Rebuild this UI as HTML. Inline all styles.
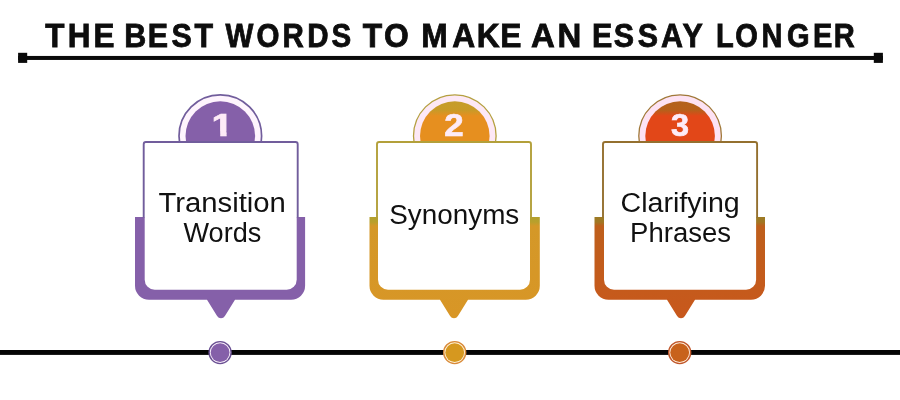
<!DOCTYPE html>
<html lang="en">
<head>
<meta charset="utf-8">
<title>The Best Words to Make an Essay Longer</title>
<style>
  html, body { margin: 0; padding: 0; background: #ffffff; }
  body { width: 900px; height: 400px; overflow: hidden; position: relative; }
  svg { position: absolute; left: 0; top: 0; display: block; will-change: transform; }
  text { font-family: "Liberation Sans", sans-serif; }
  .title text { font-weight: 700; font-size: 32.7px; fill: #0d0d0d; stroke: #0d0d0d; stroke-width: 0.8px; }
  .num { font-weight: 700; font-size: 31.5px; fill: #fdebf7; stroke: #fdebf7; stroke-width: 0.7px; }
  .lbl { font-size: 28.2px; fill: #111111; }
</style>
</head>
<body>
<svg width="900" height="400" viewBox="0 0 900 400">
  <defs>
    <linearGradient id="c2" x1="0" y1="0" x2="0" y2="1">
      <stop offset="0" stop-color="#c59d2b"/>
      <stop offset="0.13" stop-color="#c99a28"/>
      <stop offset="0.21" stop-color="#e68f1f"/>
      <stop offset="1" stop-color="#e68f1f"/>
    </linearGradient>
    <linearGradient id="k2" x1="0" y1="0" x2="0" y2="1">
      <stop offset="0" stop-color="#b3a02e"/>
      <stop offset="0.05" stop-color="#b8a02c"/>
      <stop offset="0.09" stop-color="#d49828"/>
      <stop offset="1" stop-color="#d89626"/>
    </linearGradient>
    <linearGradient id="c3" x1="0" y1="0" x2="0" y2="1">
      <stop offset="0" stop-color="#b3621c"/>
      <stop offset="0.13" stop-color="#b75f1b"/>
      <stop offset="0.21" stop-color="#e24718"/>
      <stop offset="1" stop-color="#e24718"/>
    </linearGradient>
    <linearGradient id="k3" x1="0" y1="0" x2="0" y2="1">
      <stop offset="0" stop-color="#9c7a24"/>
      <stop offset="0.05" stop-color="#a07824"/>
      <stop offset="0.09" stop-color="#be5f1c"/>
      <stop offset="1" stop-color="#c8581c"/>
    </linearGradient>
    <clipPath id="one">
      <rect x="200" y="100" width="40" height="31.5"/>
      <rect x="220.25" y="100" width="6.35" height="40"/>
    </clipPath>
  </defs>

  <!-- title -->
  <g class="title">
    <text transform="translate(0 46.5) scale(0.9618 1)" x="47.06 70.55 97.29" y="0">THE</text>
    <text transform="translate(0 46.5) scale(0.9304 1)" x="133.61 158.94 184.42 209.0" y="0">BEST</text>
    <text transform="translate(0 46.5) scale(0.9033 1)" x="249.56 283.98 312.76 340.15 367.04" y="0">WORDS</text>
    <text transform="translate(0 46.5) scale(0.9726 1)" x="373.08 394.74" y="0">TO</text>
    <text transform="translate(0 46.5) scale(0.9706 1)" x="434.02 465.99 491.12 515.48" y="0">MAKE</text>
    <text transform="translate(0 46.5) scale(1.0088 1)" x="526.33 552.66" y="0">AN</text>
    <text transform="translate(0 46.5) scale(0.9321 1)" x="635.0 658.42 684.22 709.14 732.32" y="0">ESSAY</text>
    <text transform="translate(0 46.5) scale(0.889 1)" x="805.31 827.12 856.51 885.41 914.58 937.98" y="0">LONGER</text>
  </g>
  <rect x="18.1" y="55.95" width="864.8" height="4" fill="#0a0a0a"/>
  <rect x="18.1" y="52.8" width="9.1" height="10.1" fill="#0a0a0a"/>
  <rect x="873.8" y="52.8" width="9.1" height="10.1" fill="#0a0a0a"/>

  <!-- timeline -->
  <rect x="0" y="350" width="900" height="4.9" fill="#050505"/>

  <g>
    <circle cx="220.3" cy="136.1" r="41.3" fill="#fef4fd" stroke="#715d9c" stroke-width="1.7"/>
    <circle cx="220.3" cy="136.1" r="34.8" fill="#8560a9"/>
    <path d="M135.0 216.9 H305.1 V285.8 a14 14 0 0 1 -14 14 H235.0 L224.91 316.05 A4.6 4.6 0 0 1 217.09 316.05 L207.0 299.8 H149.0 a14 14 0 0 1 -14 -14 Z" fill="#8560a9"/>
    <path d="M146.7 142 H294.7 a2 2 0 0 1 2 2 V279.7 a10 10 0 0 1 -10 10 H154.7 a10 10 0 0 1 -10 -10 V144 a2 2 0 0 1 2 -2 Z" fill="#ffffff"/>
    <path d="M143.7 217.5 V144.2 a2.2 2.2 0 0 1 2.2 -2.2 H295.5 a2.2 2.2 0 0 1 2.2 2.2 V217.5" fill="none" stroke="#715d9c" stroke-width="1.9"/>
    <circle cx="220.1" cy="352.6" r="11" fill="#fbf2fc" stroke="#6a5093" stroke-width="1.4"/>
    <circle cx="220.1" cy="352.6" r="9.4" fill="#8560a9"/>
  </g>
  <g>
    <circle cx="454.8" cy="136.1" r="41.3" fill="#fde8f6" stroke="#b5a040" stroke-width="1.3"/>
    <circle cx="454.8" cy="136.1" r="34.8" fill="url(#c2)"/>
    <path d="M369.5 216.9 H539.8 V285.8 a14 14 0 0 1 -14 14 H468.0 L457.91 316.05 A4.6 4.6 0 0 1 450.09 316.05 L440.0 299.8 H383.5 a14 14 0 0 1 -14 -14 Z" fill="url(#k2)"/>
    <path d="M380.0 142 H528.0 a2 2 0 0 1 2 2 V279.7 a10 10 0 0 1 -10 10 H388.0 a10 10 0 0 1 -10 -10 V144 a2 2 0 0 1 2 -2 Z" fill="#ffffff"/>
    <path d="M377.0 217.5 V144.2 a2.2 2.2 0 0 1 2.2 -2.2 H528.8 a2.2 2.2 0 0 1 2.2 2.2 V217.5" fill="none" stroke="#b3a03a" stroke-width="1.9"/>
    <circle cx="454.7" cy="352.6" r="11" fill="#fff3d8" stroke="#d98a3a" stroke-width="1.4"/>
    <circle cx="454.7" cy="352.6" r="9.4" fill="#d6981f"/>
  </g>
  <g>
    <circle cx="680.1" cy="136.1" r="41.3" fill="#fde2f3" stroke="#a07838" stroke-width="1.3"/>
    <circle cx="680.1" cy="136.1" r="34.8" fill="url(#c3)"/>
    <path d="M594.5 216.9 H765.0 V285.8 a14 14 0 0 1 -14 14 H695.0 L684.91 316.05 A4.6 4.6 0 0 1 677.09 316.05 L667.0 299.8 H608.5 a14 14 0 0 1 -14 -14 Z" fill="url(#k3)"/>
    <path d="M606.0 142 H754.1 a2 2 0 0 1 2 2 V279.7 a10 10 0 0 1 -10 10 H614.0 a10 10 0 0 1 -10 -10 V144 a2 2 0 0 1 2 -2 Z" fill="#ffffff"/>
    <path d="M603.0 217.5 V144.2 a2.2 2.2 0 0 1 2.2 -2.2 H754.9 a2.2 2.2 0 0 1 2.2 2.2 V217.5" fill="none" stroke="#94702f" stroke-width="1.9"/>
    <circle cx="679.7" cy="352.6" r="11" fill="#ffeede" stroke="#c0562a" stroke-width="1.4"/>
    <circle cx="679.7" cy="352.6" r="9.4" fill="#c8621c"/>
  </g>

  <!-- numbers -->
  <text class="num" clip-path="url(#one)" x="211.55" y="135.95" textLength="21.72" lengthAdjust="spacingAndGlyphs">1</text>
  <text class="num" x="444.3" y="135.95" textLength="19.4" lengthAdjust="spacingAndGlyphs">2</text>
  <text class="num" x="671.07" y="135.95" textLength="18.05" lengthAdjust="spacingAndGlyphs">3</text>

  <!-- labels -->
  <text class="lbl" x="158.42" y="212" textLength="127.47" lengthAdjust="spacingAndGlyphs">Transition</text>
  <text class="lbl" x="183.49" y="242" textLength="77.79" lengthAdjust="spacingAndGlyphs">Words</text>
  <text class="lbl" x="389.2" y="223.7" textLength="130.1" lengthAdjust="spacingAndGlyphs">Synonyms</text>
  <text class="lbl" x="620.6" y="212" textLength="119.1" lengthAdjust="spacingAndGlyphs">Clarifying</text>
  <text class="lbl" x="630.1" y="242" textLength="100.9" lengthAdjust="spacingAndGlyphs">Phrases</text>
</svg>
</body>
</html>
